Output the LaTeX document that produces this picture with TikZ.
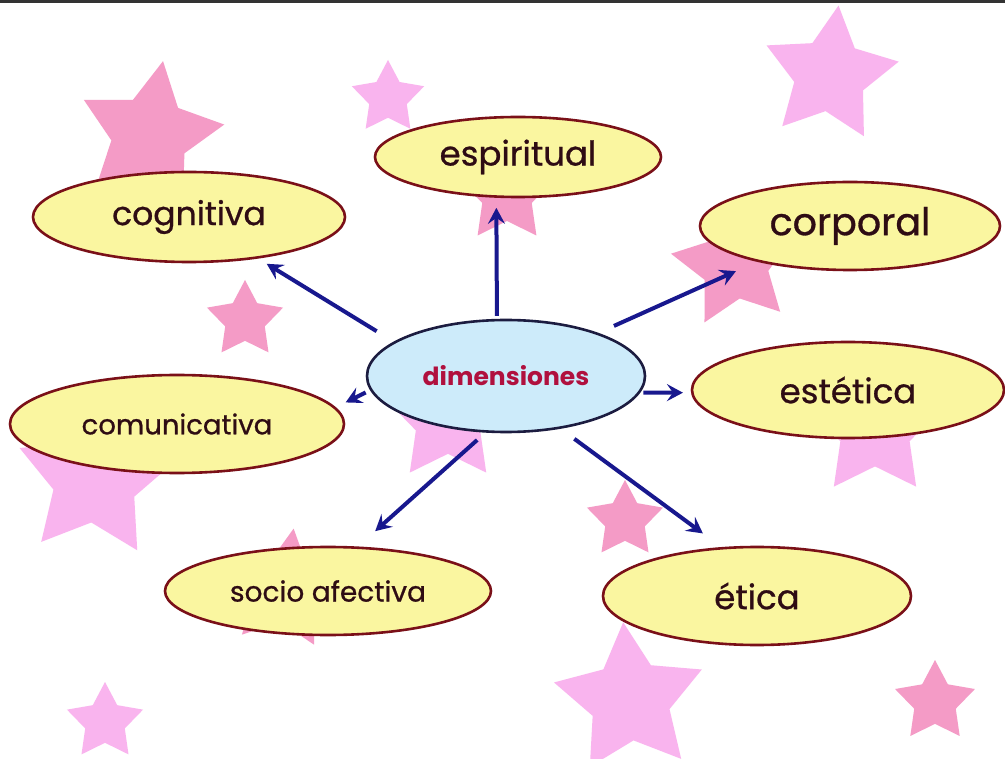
\documentclass[tikz,border=0pt]{standalone}
\usepackage{fontspec}
\setmainfont{Poppins}
\newfontfamily\leaffont[FakeBold=0.8]{Poppins}
\usetikzlibrary{shapes.geometric,arrows.meta}
\definecolor{lpink}{HTML}{F9B4EE}
\definecolor{dpink}{HTML}{F49BC6}
\definecolor{leafyellow}{HTML}{FAF6A0}
\definecolor{leafedge}{HTML}{7A1018}
\definecolor{centerblue}{HTML}{CDEBFA}
\definecolor{centeredge}{HTML}{1C1C40}
\definecolor{arrownavy}{HTML}{18188E}
\definecolor{txt}{HTML}{2E0C14}
\definecolor{dimtxt}{HTML}{B0103E}
\newcommand{\pinkstar}[5]{%
  \fill[#5] ({#1+#3*cos(90+#4)},{#2-#3*sin(90+#4)})
  \foreach \k in {0,...,4}{
    -- ({#1+0.52*#3*cos(126+#4+72*\k)},{#2-0.52*#3*sin(126+#4+72*\k)})
    -- ({#1+#3*cos(162+#4+72*\k)},{#2-#3*sin(162+#4+72*\k)})
  } -- cycle;}
\tikzset{
  leaf/.style={ellipse, draw=leafedge, line width=2.6pt, fill=leafyellow, inner sep=0pt, text=txt, font=\leaffont},
  hub/.style={ellipse, draw=centeredge, line width=2.6pt, fill=centerblue, inner sep=0pt, text=dimtxt},
  arr/.style={draw=arrownavy, line width=4pt, -{Stealth[length=16pt,width=17pt,inset=6pt]}}
}
\begin{document}
\begin{tikzpicture}[x=1pt,y=-1pt]
\fill[white] (0,0) rectangle (1005,759);
\useasboundingbox (0,0) rectangle (1005,759);
\draw[line width=3pt, color=black!80] (0,1.5) -- (1005,1.5);
% stars
\pinkstar{150}{135}{75}{-10}{dpink}
\pinkstar{388}{98}{38}{0}{lpink}
\pinkstar{507}{195}{50}{0}{dpink}
\pinkstar{830}{75}{70}{-7}{lpink}
\pinkstar{735}{265}{65}{8}{dpink}
\pinkstar{245}{320}{40}{0}{dpink}
\pinkstar{448}{420}{65}{0}{lpink}
\pinkstar{95}{480}{82}{-5}{lpink}
\pinkstar{285}{590}{62}{-8}{dpink}
\pinkstar{875}{430}{70}{0}{lpink}
\pinkstar{625}{520}{40}{0}{dpink}
\pinkstar{105}{722}{40}{0}{lpink}
\pinkstar{630}{700}{78}{5}{lpink}
\pinkstar{935}{702}{42}{0}{dpink}
% nodes
\node[hub, minimum width=278, minimum height=112] (dim) at (506,376) {\fontsize{25}{28}\selectfont\bfseries dimensiones};
\node[leaf, minimum width=312, minimum height=90] (cog) at (189,217) {\fontsize{33}{36}\selectfont cognitiva};
\node[leaf, minimum width=286, minimum height=80] (esp) at (518,157) {\fontsize{34}{36}\selectfont espiritual};
\node[leaf, minimum width=300, minimum height=88] (cor) at (850,226) {\fontsize{38}{40}\selectfont corporal};
\node[leaf, minimum width=334, minimum height=98] (com) at (177,424) {\fontsize{27.5}{30}\selectfont comunicativa};
\node[leaf, minimum width=312, minimum height=96] (est) at (848,390) {\fontsize{34}{36}\selectfont estética};
\node[leaf, minimum width=326, minimum height=88] (soc) at (328,591) {\fontsize{28}{30}\selectfont socio afectiva};
\node[leaf, minimum width=308, minimum height=98] (eti) at (757,596) {\fontsize{34}{36}\selectfont ética};
% connectors
\draw[arr, shorten <=20pt, shorten >=10pt] (dim.163) -- (cog.-31);
\draw[arr, shorten <=3pt, shorten >=10pt] (dim.99.5) -- (esp.242);
\draw[arr, shorten <=17pt, shorten >=23pt] (dim.25.3) -- (cor.201.8);
\draw[arr, shorten <=5pt, shorten >=11pt] (dim.186.6) -- (com.6.1);
\draw[arr, shorten <=3pt, shorten >=8pt] (dim.-7) -- (est.181);
\draw[arr, shorten <=11pt, shorten >=23pt] (dim.250) -- (soc.56.3);
\draw[arr, shorten <=17pt, shorten >=23pt] (dim.-44.1) -- (eti.126.6);
\end{tikzpicture}
\end{document}
